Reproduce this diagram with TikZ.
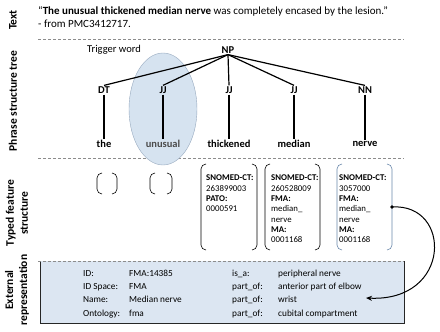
\documentclass[tikz,border=0pt]{standalone}
\usepackage{fontspec}
\setmainfont{Carlito}
\usetikzlibrary{arrows.meta}
\definecolor{boxfill}{RGB}{220,230,242}
\definecolor{trigger}{RGB}{214,227,240}
\definecolor{triggeredge}{RGB}{150,168,190}
\definecolor{nervefs}{RGB}{105,135,170}
\definecolor{sepline}{RGB}{140,140,140}

\tikzset{
  sect/.style={font=\bfseries\fontsize{11.5}{14}\selectfont, rotate=90, align=center, inner sep=0pt},
  cat/.style={font=\bfseries\fontsize{10.5}{12}\selectfont, inner sep=1pt},
  word/.style={font=\bfseries\fontsize{10.5}{12}\selectfont, inner sep=1pt},
  branch/.style={line width=1.2pt},
  sep/.style={sepline, densely dashed, line width=0.6pt},
  brk/.style={line width=0.6pt, rounded corners=5pt},
  fs/.style={font=\fontsize{8.8}{10.3}\selectfont, align=left, anchor=north west, inner sep=0pt},
  ext/.style={font=\fontsize{9.3}{10}\selectfont, anchor=base west, inner sep=0pt},
}

\newcommand{\fsbracket}[5][black]{%
  \draw[brk,#1] (#2+5,#4) -- (#2,#4) -- (#2,#5) -- (#2+5,#5);
  \draw[brk,#1] (#3-5,#4) -- (#3,#4) -- (#3,#5) -- (#3-5,#5);
}

\begin{document}
\begin{tikzpicture}[x=1pt,y=-1pt]
\useasboundingbox (0,0) rectangle (440,332);

% section titles
\node[sect] (ttext) at (13,20) {Text};
\node[sect] (ttree) at (13,101) {Phrase structure tree};
\node[sect] (tfs) at (17,213) {Typed feature\\structure};
\node[sect] (text) at (17,290) {External\\representation};

% sentence
\node[anchor=west, font=\fontsize{11}{13}\selectfont, inner sep=0pt] (sent) at (38,11)
  {“\textbf{The unusual thickened median nerve} was completely encased by the lesion.”};
\node[anchor=west, font=\fontsize{11}{13}\selectfont, inner sep=0pt] (src) at (38,24)
  {- from PMC3412717.};

\draw[sep] (38,39) -- (404,39);
\draw[sep] (38,158) -- (404,158);

% tree
\draw[triggeredge, fill=trigger] (163,109) ellipse [x radius=34, y radius=56];
\node[font=\fontsize{10.5}{12}\selectfont, anchor=west, inner sep=0pt] (trig) at (87,50) {Trigger word};
\node[cat] (np) at (228,50) {NP};

\foreach \n/\x/\c/\w/\col in {dt/104/DT/the/black, jja/163/JJ/unusual/black!70, jjb/229/JJ/thickened/black, jjc/294/JJ/median/black, nn/365/NN/nerve/black}{
  \node[cat] (\n) at (\x,90) {\c};
  \node[word, text=\col] (w\n) at (\x,144) {\w};
  \draw[branch] (np.south) -- (\n.north);
  \draw[branch] (\n.south) -- (w\n.north);
}

% feature structures
\fsbracket{97}{117}{173}{194}
\fsbracket{150}{172}{173}{194}
\fsbracket{201}{257}{164}{250}
\fsbracket{265}{320}{164}{250}
\fsbracket[nervefs]{337}{392}{164}{250}

\node[fs] (fsthick) at (206,175) {\textbf{SNOMED-CT:}\\263899003\\\textbf{PATO:}\\0000591};
\node[fs] (fsmedian) at (271,175) {\textbf{SNOMED-CT:}\\260528009\\\textbf{FMA:}\\median\_\\nerve\\\textbf{MA:}\\0001168};
\node[fs] (fsnerve) at (339,175) {\textbf{SNOMED-CT:}\\3057000\\\textbf{FMA:}\\median\_\\nerve\\\textbf{MA:}\\0001168};

% external representation
\node[fill=boxfill, minimum width=364pt, minimum height=62pt, anchor=north west, inner sep=0pt] (extbox) at (40,261) {};
\draw[line width=0.8pt, black!85] (extbox.north west) -- (extbox.south west) -- (extbox.south east) -- (extbox.north east);
\draw[sep] (38,261) -- (404,261);

\foreach \a/\b/\c/\d [count=\i] in {ID:/FMA:14385/is\_a:/peripheral nerve,
    ID Space:/FMA/part\_of:/anterior part of elbow,
    Name:/Median nerve/part\_of:/wrist,
    Ontology:/fma/part\_of:/cubital compartment}{
  \node[ext] (ida\i) at (83,263+13.3*\i) {\a};
  \node[ext] (idb\i) at (129,263+13.3*\i) {\b};
  \node[ext] (idc\i) at (232,263+13.3*\i) {\c};
  \node[ext] (idd\i) at (278,263+13.3*\i) {\d};
}

\coordinate (nervedot) at (392,207);
\coordinate (wristpt) at (366,298);
\fill (nervedot) circle (1.8pt);
\draw[line width=1pt, -{Stealth[length=6pt,width=5pt]}] (nervedot) .. controls (452,203) and (452,302) .. (wristpt);
\end{tikzpicture}
\end{document}
